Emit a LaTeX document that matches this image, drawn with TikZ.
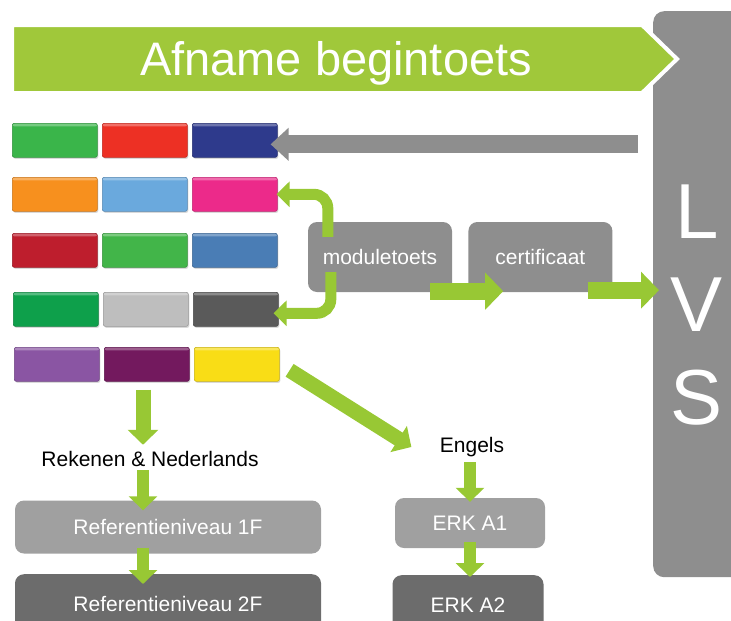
\documentclass[tikz,border=0pt]{standalone}
\usepackage{fontspec}
\setmainfont{Liberation Sans}
\usetikzlibrary{arrows.meta,calc,positioning,shadows}

\definecolor{bannergreen}{RGB}{160,200,58}
\definecolor{arrowgreen}{RGB}{152,200,52}
\definecolor{lvsgrey}{RGB}{142,142,142}
\definecolor{boxlight}{RGB}{160,160,160}
\definecolor{boxdark}{RGB}{108,108,108}
\definecolor{blkgreen}{RGB}{58,181,74}
\definecolor{blkred}{RGB}{237,48,36}
\definecolor{blknavy}{RGB}{46,58,140}
\definecolor{blkorange}{RGB}{247,144,30}
\definecolor{blkblue}{RGB}{106,169,221}
\definecolor{blkpink}{RGB}{236,42,138}
\definecolor{blkdarkred}{RGB}{190,30,45}
\definecolor{blklime}{RGB}{66,181,73}
\definecolor{blksteel}{RGB}{74,125,181}
\definecolor{blkdeepgreen}{RGB}{14,160,75}
\definecolor{blksilver}{RGB}{190,190,190}
\definecolor{blkgrey}{RGB}{90,90,90}
\definecolor{blkpurple}{RGB}{138,85,163}
\definecolor{blkplum}{RGB}{115,25,94}
\definecolor{blkyellow}{RGB}{249,221,22}

\begin{document}
\begin{tikzpicture}[x=1pt,y=-1pt]
\tikzset{BLOCK/.style={rectangle,fill=#1,draw=#1!80!black,line width=0.6pt,rounded corners=2pt,minimum width=85pt,minimum height=34pt,inner sep=0pt,anchor=north west,drop shadow={opacity=0.3,shadow xshift=1pt,shadow yshift=-1.5pt},
  path picture={\fill[white,opacity=0.3] (path picture bounding box.north west) rectangle ([yshift=-3pt]path picture bounding box.north east);}}}
\tikzset{BOX/.style={rectangle,rounded corners=9pt,inner sep=0pt,text=white,font=\fontsize{21}{25}\selectfont}}
\tikzset{LABEL/.style={font=\fontsize{21}{25}\selectfont}}

\tikzset{GREENARROW/.style={draw=arrowgreen,line width=15pt,-{Triangle[length=15pt,width=30pt]}}}
\tikzset{FATARROW/.style={draw=arrowgreen,line width=17pt,-{Triangle[length=18pt,width=36pt]}}}
\tikzset{BENTARROW/.style={draw=arrowgreen,line width=11pt,rounded corners=14pt,-{Triangle[length=13pt,width=25pt]}}}
\tikzset{GREYARROW/.style={draw=lvsgrey,line width=18pt,-{Triangle[length=18pt,width=32pt]}}}

\useasboundingbox (0,0) rectangle (731,621);

% LVS column
\node[BOX,fill=lvsgrey,rounded corners=11pt,minimum width=90pt,minimum height=566pt,anchor=north west] (lvs) at (653,11) {};
\node[text=white,align=center,font=\fontsize{78}{93}\selectfont] (lvs text) at (697,305) {L\\V\\S};

% banner
\path[fill=bannergreen,draw=white,line width=4pt,line join=miter]
  (12,25) -- (642,25) -- (677,59) -- (642,93) -- (12,93) -- cycle;
\node[text=white,font=\fontsize{47}{50}\selectfont] (banner) at (336,63) {Afname begintoets};

% coloured blocks
\foreach \row/\y/\dx/\ca/\cb/\cc in {1/123/0/blkgreen/blkred/blknavy,
    2/177/0/blkorange/blkblue/blkpink,
    3/233/0/blkdarkred/blklime/blksteel,
    4/292/1/blkdeepgreen/blksilver/blkgrey,
    5/347/2/blkpurple/blkplum/blkyellow} {
  \node[BLOCK=\ca] (r\row-1) at (12+\dx,\y) {};
  \node[BLOCK=\cb] (r\row-2) at (102+\dx,\y) {};
  \node[BLOCK=\cc] (r\row-3) at (192+\dx,\y) {};
}

% module and certificate
\node[BOX,fill=lvsgrey,minimum width=144pt,minimum height=70pt] (moduletoets) at (380,257) {moduletoets};
\node[BOX,fill=lvsgrey,minimum width=144pt,minimum height=70pt,right=16pt of moduletoets] (certificaat) {certificaat};

% lower part
\node[LABEL] (rekenen) at (150,459) {Rekenen \& Nederlands};
\node[BOX,fill=boxlight,minimum width=306pt,minimum height=53pt] (ref1F) at (168,527) {Referentieniveau 1F};
\node[BOX,fill=boxdark,minimum width=306pt,minimum height=60pt,anchor=north] (ref2F) at (168,574) {Referentieniveau 2F};
\node[LABEL] (engels) at (472,447) {Engels};
\node[BOX,fill=boxlight,minimum width=150pt,minimum height=50pt] (erkA1) at (470,523) {ERK A1};
\node[BOX,fill=boxdark,minimum width=151pt,minimum height=60pt,anchor=north] (erkA2) at (468,575) {ERK A2};

\coordinate (left axis) at (143,0);
\coordinate (right axis) at (470,0);

% connectors
\draw[GREYARROW] ($(lvs.west |- r1-3.east)+(-15,4)$) -- ($(r1-3.east)+(-7,4)$);
\draw[BENTARROW] ($(moduletoets.north west)+(20,15)$) |- ($(r2-3.east)+(-1,0)$);
\draw[BENTARROW] ($(moduletoets.south west)+(23,-20)$) |- ($(r4-3.east)+(-5,4)$);
\draw[FATARROW] ($(moduletoets.south east)+(-22,-1)$) -- ($(certificaat.south west)+(35,-1)$);
\draw[FATARROW] ($(certificaat.south east)+(-25,-2)$) -- ($(lvs.west |- certificaat.south)+(6,-2)$);

\draw[GREENARROW] ([yshift=-8pt]r5-2.south -| left axis) -- ([yshift=3pt]rekenen.north -| left axis);
\draw[GREENARROW,line width=12pt,-{Triangle[length=14pt,width=28pt]}] (rekenen.south -| left axis) -- ([yshift=-10pt]ref1F.north -| left axis);
\draw[GREENARROW,line width=12pt,-{Triangle[length=14pt,width=28pt]}] ([yshift=6pt]ref1F.south -| left axis) -- ([yshift=-10pt]ref2F.north -| left axis);

\draw[GREENARROW] ($(r5-3.east)+(10,6)$) -- ($(engels.west)+(-25,0)$);
\draw[GREENARROW,line width=12pt,-{Triangle[length=14pt,width=28pt]}] ([yshift=-2pt]engels.south -| right axis) -- ([yshift=-4pt]erkA1.north -| right axis);
\draw[GREENARROW,line width=12pt,-{Triangle[length=14pt,width=28pt]}] ([yshift=6pt]erkA1.south -| right axis) -- ([yshift=-2pt]erkA2.north -| right axis);
\end{tikzpicture}
\end{document}
